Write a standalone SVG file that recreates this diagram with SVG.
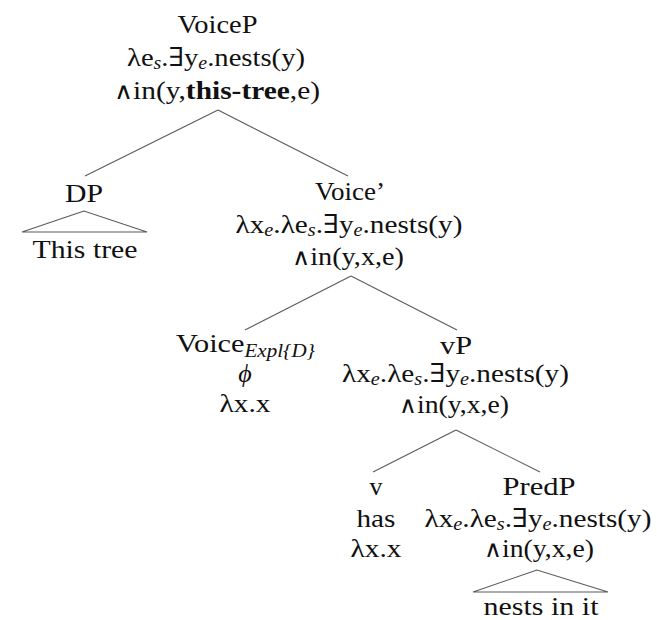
<svg xmlns="http://www.w3.org/2000/svg" width="657" height="620" viewBox="0 0 657 620">
  <style>
    text { font-family: "Liberation Serif", "DejaVu Serif", serif; font-size: 26px; fill: #111; text-anchor: middle; }
    .sub { font-size: 18px; font-style: italic; }
    .b { font-weight: bold; }
    .op { font-family: "DejaVu Serif", "Liberation Serif", serif; font-size: 23px; }
    .edge { stroke: #5a5a5a; stroke-width: 1.1; fill: none; }
  </style>
  <rect width="657" height="620" fill="#fff"/>

  <g id="connectors">
    <line class="edge" x1="218" y1="110" x2="85" y2="176"/>
    <line class="edge" x1="218" y1="110" x2="348" y2="176"/>
    <line class="edge" x1="351" y1="276" x2="245" y2="330"/>
    <line class="edge" x1="351" y1="276" x2="457" y2="330"/>
    <line class="edge" x1="456" y1="430" x2="373" y2="472"/>
    <line class="edge" x1="456" y1="430" x2="540" y2="472"/>
    <polygon class="edge" points="84,211 22,232 147,232"/>
    <polygon class="edge" points="537,570 473,592 608,592"/>
  </g>

  <g id="voiceP">
    <text x="217.5" y="33" textLength="80" lengthAdjust="spacingAndGlyphs">VoiceP</text>
    <text x="216" y="66" textLength="178" lengthAdjust="spacingAndGlyphs">λe<tspan class="sub" dy="3">s</tspan><tspan dy="-3">.∃y</tspan><tspan class="sub" dy="3">e</tspan><tspan dy="-3">.nests(y)</tspan></text>
    <text x="217" y="99" textLength="206" lengthAdjust="spacingAndGlyphs"><tspan class="op">∧</tspan>in(y,<tspan class="b">this-tree</tspan>,e)</text>
  </g>

  <g id="dp">
    <text x="84" y="202" textLength="38" lengthAdjust="spacingAndGlyphs">DP</text>
    <text x="85" y="258" textLength="105" lengthAdjust="spacingAndGlyphs">This tree</text>
  </g>

  <g id="voiceBar">
    <text x="350" y="200" textLength="70" lengthAdjust="spacingAndGlyphs">Voice’</text>
    <text x="349" y="233" textLength="227" lengthAdjust="spacingAndGlyphs">λx<tspan class="sub" dy="3">e</tspan><tspan dy="-3">.λe</tspan><tspan class="sub" dy="3">s</tspan><tspan dy="-3">.∃y</tspan><tspan class="sub" dy="3">e</tspan><tspan dy="-3">.nests(y)</tspan></text>
    <text x="348" y="265" textLength="112" lengthAdjust="spacingAndGlyphs"><tspan class="op">∧</tspan>in(y,x,e)</text>
  </g>

  <g id="voiceExpl">
    <text x="245.5" y="352" textLength="139" lengthAdjust="spacingAndGlyphs">Voice<tspan class="sub" dy="5">Expl{D}</tspan></text>
    <text x="245" y="382" font-style="italic">ϕ</text>
    <text x="245" y="412" textLength="51" lengthAdjust="spacingAndGlyphs">λx.x</text>
  </g>

  <g id="vP">
    <text x="456" y="354" textLength="32" lengthAdjust="spacingAndGlyphs">vP</text>
    <text x="455.5" y="382" textLength="227" lengthAdjust="spacingAndGlyphs">λx<tspan class="sub" dy="3">e</tspan><tspan dy="-3">.λe</tspan><tspan class="sub" dy="3">s</tspan><tspan dy="-3">.∃y</tspan><tspan class="sub" dy="3">e</tspan><tspan dy="-3">.nests(y)</tspan></text>
    <text x="454" y="413" textLength="110" lengthAdjust="spacingAndGlyphs"><tspan class="op">∧</tspan>in(y,x,e)</text>
  </g>

  <g id="v">
    <text x="376" y="495">v</text>
    <text x="376" y="527" textLength="39" lengthAdjust="spacingAndGlyphs">has</text>
    <text x="376" y="557" textLength="51" lengthAdjust="spacingAndGlyphs">λx.x</text>
  </g>

  <g id="predP">
    <text x="539" y="495" textLength="73" lengthAdjust="spacingAndGlyphs">PredP</text>
    <text x="538" y="527" textLength="227" lengthAdjust="spacingAndGlyphs">λx<tspan class="sub" dy="3">e</tspan><tspan dy="-3">.λe</tspan><tspan class="sub" dy="3">s</tspan><tspan dy="-3">.∃y</tspan><tspan class="sub" dy="3">e</tspan><tspan dy="-3">.nests(y)</tspan></text>
    <text x="539" y="557" textLength="110" lengthAdjust="spacingAndGlyphs"><tspan class="op">∧</tspan>in(y,x,e)</text>
    <text x="541" y="615" textLength="115" lengthAdjust="spacingAndGlyphs">nests in it</text>
  </g>
</svg>
